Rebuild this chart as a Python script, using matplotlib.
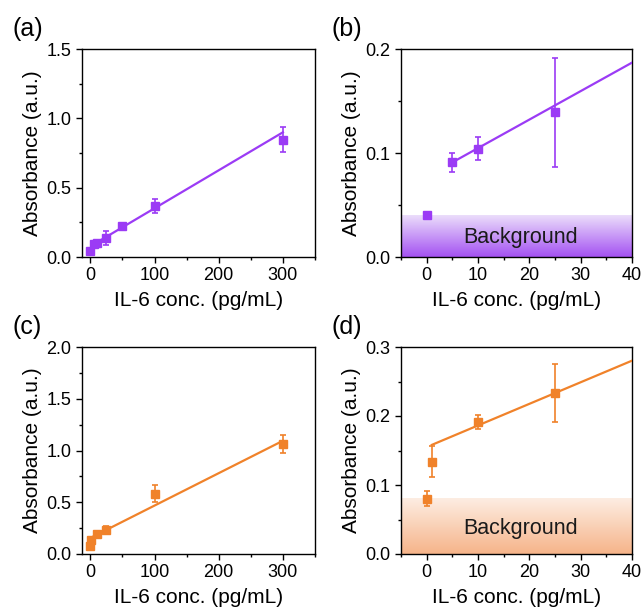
import numpy as np
import matplotlib
matplotlib.use('Agg')
import matplotlib.pyplot as plt
from matplotlib.colors import LinearSegmentedColormap
from matplotlib.ticker import AutoMinorLocator

plt.rcParams['font.family'] = ['Liberation Sans', 'DejaVu Sans']

# IL-6 data, purple series (a, b)
conc_p = [0, 5, 10, 25, 50, 100, 300]
abs_p = [0.040, 0.091, 0.104, 0.139, 0.225, 0.370, 0.845]
err_p = [0.003, 0.009, 0.011, 0.052, 0.02, 0.05, 0.09]
fit_p = (0.00274, 0.0773)   # slope, intercept
bg_p = 0.040

# orange series (c, d)
conc_o = [0, 1, 10, 25, 100, 300]
abs_o = [0.080, 0.134, 0.191, 0.233, 0.582, 1.062]
err_o = [0.011, 0.022, 0.010, 0.042, 0.084, 0.085]
fit_o = (0.00313, 0.155)
bg_o = 0.080

purple = '#9B3BF5'
orange = '#F0822A'

fig = plt.figure(figsize=(6.41, 6.09), dpi=100)
W, H = 641, 609


def make_ax(l, t, r, b):
    return fig.add_axes([l / W, 1 - b / H, (r - l) / W, (b - t) / H])


def style(ax, xlim, ylim, xticks, yticks, label):
    ax.set_xlim(*xlim)
    ax.set_ylim(*ylim)
    ax.set_xticks(xticks)
    ax.set_yticks(yticks)
    ax.xaxis.set_minor_locator(AutoMinorLocator(2))
    ax.yaxis.set_minor_locator(AutoMinorLocator(2))
    ax.tick_params(which='both', direction='out', labelsize=13, top=False, right=False)
    ax.tick_params(which='major', length=4, width=1)
    ax.tick_params(which='minor', length=2.5, width=1)
    for s in ax.spines.values():
        s.set_linewidth(1)
    ax.set_xlabel('IL-6 conc. (pg/mL)', fontsize=15, labelpad=5)
    ax.set_ylabel('Absorbance (a.u.)', fontsize=15, labelpad=3)
    ax.text(-0.30, 1.04, label, transform=ax.transAxes, fontsize=18, va='bottom')


def draw(ax, x, y, e, col, fit, x0, x1):
    ax.errorbar(x, y, yerr=e, fmt='s', color=col, ms=6, capsize=2.5,
                elinewidth=1.2, capthick=1.2, zorder=4)
    xx = np.array([x0, x1])
    ax.plot(xx, fit[0] * xx + fit[1], color=col, lw=1.6, zorder=3)


def background(ax, top, c_top, c_bot, xlim):
    cmap = LinearSegmentedColormap.from_list('bg', [c_bot, c_top])
    grad = np.linspace(0, 1, 100).reshape(-1, 1)
    ax.imshow(grad, cmap=cmap, aspect='auto', origin='lower',
              extent=[xlim[0], xlim[1], 0, top], zorder=1)
    ax.text(18.3, top * 0.47, 'Background', fontsize=15.5,
            ha='center', va='center', color='#1a1a1a', zorder=2)


# (a)
ax = make_ax(82, 49, 315, 257)
draw(ax, conc_p, abs_p, err_p, purple, fit_p, 5, 300)
style(ax, (-13, 350), (0, 1.5), [0, 100, 200, 300], [0, 0.5, 1.0, 1.5], '(a)')
ax.set_yticklabels(['0.0', '0.5', '1.0', '1.5'])

# (b)
ax = make_ax(401, 49, 632, 257)
xl = (-5, 40)
background(ax, bg_p, '#EBDDFB', '#A452F2', xl)
draw(ax, conc_p[:4], abs_p[:4], err_p[:4], purple, fit_p, 5, 40)
style(ax, xl, (0, 0.2), [0, 10, 20, 30, 40], [0, 0.1, 0.2], '(b)')
ax.set_yticklabels(['0.0', '0.1', '0.2'])

# (c)
ax = make_ax(82, 347, 315, 554)
draw(ax, conc_o, abs_o, err_o, orange, fit_o, 1, 300)
style(ax, (-13, 350), (0, 2.0), [0, 100, 200, 300], [0, 0.5, 1.0, 1.5, 2.0], '(c)')
ax.set_yticklabels(['0.0', '0.5', '1.0', '1.5', '2.0'])

# (d)
ax = make_ax(401, 347, 632, 554)
background(ax, bg_o, '#FDEDE2', '#F6B48A', xl)
draw(ax, conc_o[:4], abs_o[:4], err_o[:4], orange, fit_o, 1, 40)
style(ax, xl, (0, 0.3), [0, 10, 20, 30, 40], [0, 0.1, 0.2, 0.3], '(d)')
ax.set_yticklabels(['0.0', '0.1', '0.2', '0.3'])

fig.savefig('out.png', dpi=100)
